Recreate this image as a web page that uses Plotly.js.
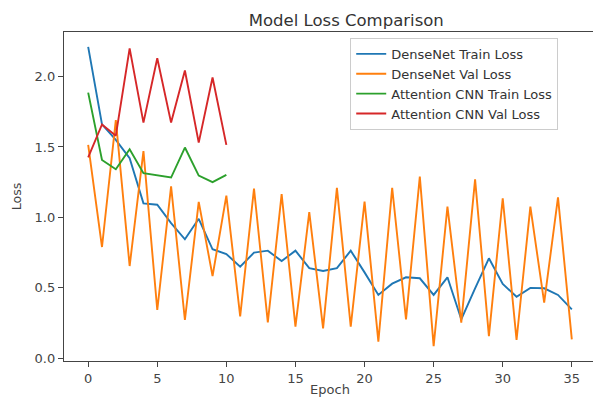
<!DOCTYPE html>
<html>
<head>
<meta charset="utf-8">
<script src="https://cdn.plot.ly/plotly-3.0.1.min.js"></script>
<style>
html,body{margin:0;padding:0;overflow:hidden;background:#fff;}
#chart{width:596px;height:397px;}
</style>
</head>
<body>
<div id="chart"></div>
<script>
const denseEpochs = Array.from({length: 36}, (_, i) => i);
const attnEpochs = Array.from({length: 11}, (_, i) => i);

const denseTrain = [2.21, 1.66, 1.55, 1.42, 1.10, 1.09, 0.96, 0.845, 0.99, 0.774, 0.74, 0.65,
  0.75, 0.764, 0.69, 0.764, 0.64, 0.62, 0.64, 0.764, 0.61, 0.45, 0.53, 0.575,
  0.568, 0.45, 0.575, 0.277, 0.497, 0.71, 0.528, 0.437, 0.50, 0.497, 0.45, 0.348];
const denseVal = [1.515, 0.79, 1.69, 0.655, 1.47, 0.343, 1.22, 0.272, 1.11, 0.584, 1.155, 0.298,
  1.205, 0.255, 1.165, 0.225, 1.037, 0.213, 1.21, 0.225, 1.112, 0.118, 1.21, 0.277,
  1.29, 0.087, 1.077, 0.253, 1.27, 0.158, 1.136, 0.13, 1.077, 0.395, 1.143, 0.135];
const attnTrain = [1.886, 1.408, 1.342, 1.484, 1.314, 1.297, 1.283, 1.496, 1.297, 1.25, 1.302];
const attnVal = [1.427, 1.66, 1.58, 2.20, 1.673, 2.13, 1.673, 2.043, 1.531, 1.993, 1.515];

const seriesNames = ['DenseNet Train Loss', 'DenseNet Val Loss', 'Attention CNN Train Loss', 'Attention CNN Val Loss'];
const xTicks = [0, 5, 10, 15, 20, 25, 30, 35];
const yTicks = [0.0, 0.5, 1.0, 1.5, 2.0];
const yTickLabels = ['0.0', '0.5', '1.0', '1.5', '2.0'];

const colors = ['#1f77b4', '#ff7f0e', '#2ca02c', '#d62728'];
const font = 'DejaVu Sans, sans-serif';

const traces = [
  {x: denseEpochs, y: denseTrain, name: seriesNames[0]},
  {x: denseEpochs, y: denseVal, name: seriesNames[1]},
  {x: attnEpochs, y: attnTrain, name: seriesNames[2]},
  {x: attnEpochs, y: attnVal, name: seriesNames[3]}
].map((t, i) => Object.assign(t, {type: 'scatter', mode: 'lines', line: {color: colors[i], width: 1.9}}));

const axisCommon = {
  showgrid: false, zeroline: false, showline: true, mirror: true,
  linecolor: '#444', linewidth: 1.2, ticks: 'outside', ticklen: 5, tickcolor: '#444',
  tickfont: {family: font, size: 13, color: '#444'}
};

const layout = {
  width: 596, height: 397,
  margin: {l: 64, r: 0, t: 32, b: 36},
  paper_bgcolor: '#fff', plot_bgcolor: '#fff',
  title: {text: 'Model Loss Comparison', font: {family: font, size: 16.5, color: '#333'}, x: 0.581, xanchor: 'center', y: 0.95, yanchor: 'middle'},
  xaxis: Object.assign({}, axisCommon, {range: [-1.75, 36.75], tickvals: xTicks,
    title: {text: 'Epoch', font: {family: font, size: 13, color: '#444'}, standoff: 2}}),
  yaxis: Object.assign({}, axisCommon, {range: [-0.019, 2.316], tickvals: yTicks, ticktext: yTickLabels,
    title: {text: 'Loss', font: {family: font, size: 12.5, color: '#444'}, standoff: 10}}),
  showlegend: true,
  legend: {x: 0.538, y: 0.982, xanchor: 'left', yanchor: 'top', bgcolor: 'rgba(255,255,255,0.8)',
    bordercolor: '#ccc', borderwidth: 1, font: {family: font, size: 13, color: '#333'},
    itemwidth: 30, tracegroupgap: 0}
};

Plotly.newPlot('chart', traces, layout, {staticPlot: true, displayModeBar: false});
</script>
</body>
</html>
